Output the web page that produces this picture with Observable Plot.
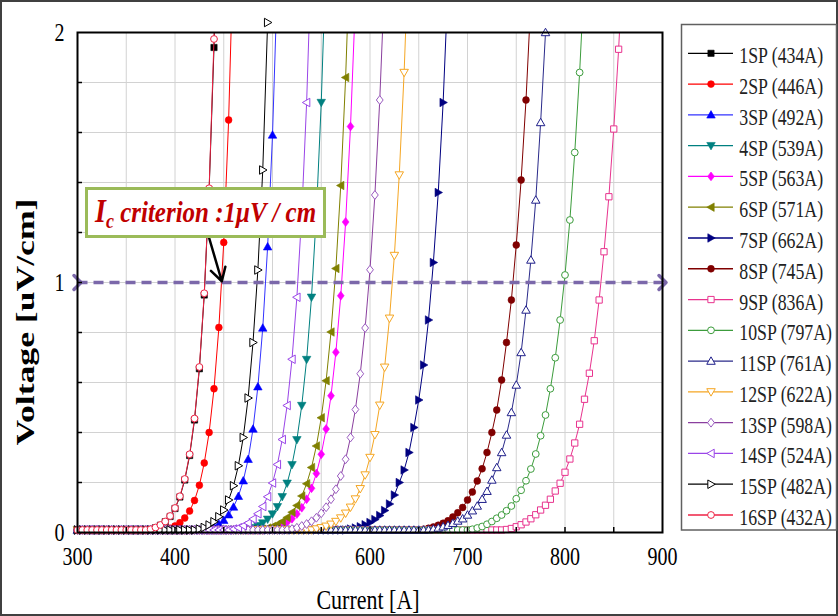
<!DOCTYPE html>
<html><head><meta charset="utf-8">
<script src="https://cdn.jsdelivr.net/npm/d3@7"></script>
<script src="https://cdn.jsdelivr.net/npm/@observablehq/plot@0.6"></script>
<style>
html,body{margin:0;padding:0;background:#fff;}
#wrap{position:relative;width:838px;height:616px;overflow:hidden;}
#wrap svg{display:block;}
</style></head><body><div id="wrap"></div>
<script>
// ---------- DATA ----------
const current = [
300,305,310,315,320,325,330,335,340,345,
350,355,360,365,370,375,380,385,390,395,
400,405,410,415,420,425,430,435,440,445,
450,455,460,465,470,475,480,485,490,495,
500,505,510,515,520,525,530,535,540,545,
550,555,560,565,570,575,580,585,590,595,
600,605,610,615,620,625,630,635,640,645,
650,655,660,665,670,675,680,685,690,695,
700,705,710,715,720,725,730,735,740,745,
750,755,760,765,770,775,780,785,790,795,
800,805,810,815,820,825,830,835,840,845,
850,855,860];

const seriesNames = ["1SP (434A)","2SP (446A)","3SP (492A)","4SP (539A)","5SP (563A)","6SP (571A)","7SP (662A)","8SP (745A)",
  "9SP (836A)","10SP (797A)","11SP (761A)","12SP (622A)","13SP (598A)","14SP (524A)","15SP (482A)","16SP (432A)"];

// voltages [uV/cm] at current[0], current[1], ...
const v1SP = [
.01,.01,.01,.01,.01,.01,.01,.01,.01,.01,
.01,.01,.01,.01,.01,.012,.019,.029,.043,.064,
.096,.142,.210,.308,.450,.655,.950,1.37,1.94,2.80];
const v2SP = [
.01,.01,.01,.01,.01,.01,.01,.01,.01,.01,
.01,.01,.01,.01,.01,.01,.01,.01,.011,.017,
.026,.039,.058,.086,.128,.189,.278,.400,.575,.820,
1.16,1.65,2.35];
const v3SP = [
.01,.01,.01,.01,.01,.01,.01,.01,.01,.01,
.01,.01,.01,.01,.01,.01,.01,.01,.01,.01,
.01,.01,.01,.01,.01,.01,.011,.016,.023,.034,
.049,.071,.102,.145,.207,.293,.414,.583,.818,1.143,
1.59,2.21];
const v4SP = [
.01,.01,.01,.01,.01,.01,.01,.01,.01,.01,
.01,.01,.01,.01,.01,.01,.01,.01,.01,.01,
.01,.01,.01,.01,.01,.01,.01,.01,.01,.01,
.01,.01,.01,.01,.01,.014,.019,.027,.038,.053,
.074,.103,.143,.197,.271,.371,.508,.692,.941,1.275,
1.72,2.32];
const v5SP = [
.01,.01,.01,.01,.01,.01,.01,.01,.01,.01,
.01,.01,.01,.01,.01,.01,.01,.01,.01,.01,
.01,.01,.01,.01,.01,.01,.01,.01,.01,.01,
.01,.01,.01,.01,.01,.01,.01,.01,.01,.012,
.016,.022,.030,.041,.055,.074,.099,.133,.177,.236,
.313,.414,.547,.721,.947,1.242,1.624,2.12];
const v6SP = [
.01,.01,.01,.01,.01,.01,.01,.01,.01,.01,
.01,.01,.01,.01,.01,.01,.01,.01,.01,.01,
.01,.01,.01,.01,.01,.01,.01,.01,.01,.01,
.01,.01,.01,.01,.01,.01,.01,.01,.013,.018,
.024,.033,.044,.060,.081,.108,.146,.195,.260,.346,
.459,.607,.802,1.056,1.388,1.82,2.38];
const v7SP = [
.01,.01,.01,.01,.01,.01,.01,.01,.01,.01,
.01,.01,.01,.01,.01,.01,.01,.01,.01,.01,
.01,.01,.01,.01,.01,.01,.01,.01,.01,.01,
.01,.01,.01,.01,.01,.01,.01,.01,.01,.01,
.01,.01,.01,.01,.01,.01,.01,.01,.01,.01,
.01,.01,.01,.01,.01,.01,.014,.018,.023,.031,
.040,.052,.068,.088,.114,.15,.20,.25,.32,.42,
.53,.67,.85,1.08,1.36,1.72,2.19];
const v8SP = [
.01,.01,.01,.01,.01,.01,.01,.01,.01,.01,
.01,.01,.01,.01,.01,.01,.01,.01,.01,.01,
.01,.01,.01,.01,.01,.01,.01,.01,.01,.01,
.01,.01,.01,.01,.01,.01,.01,.01,.01,.01,
.01,.01,.01,.01,.01,.01,.01,.01,.01,.01,
.01,.01,.01,.01,.01,.01,.01,.01,.01,.01,
.01,.01,.01,.01,.01,.01,.01,.01,.01,.01,
.01,.013,.017,.022,.029,.037,.047,.062,.079,.10,
.13,.162,.206,.255,.32,.40,.49,.61,.76,.93,
1.15,1.41,1.73,2.13];
const v9SP = [
.01,.01,.01,.01,.01,.01,.01,.01,.01,.01,
.01,.01,.01,.01,.01,.01,.01,.01,.01,.01,
.01,.01,.01,.01,.01,.01,.01,.01,.01,.01,
.01,.01,.01,.01,.01,.01,.01,.01,.01,.01,
.01,.01,.01,.01,.01,.01,.01,.01,.01,.01,
.01,.01,.01,.01,.01,.01,.01,.01,.01,.01,
.01,.01,.01,.01,.01,.01,.01,.01,.01,.01,
.01,.01,.01,.01,.01,.01,.01,.01,.01,.01,
.01,.01,.01,.01,.01,.01,.01,.01,.012,.016,
.023,.031,.042,.055,.071,.09,.109,.133,.166,.197,
.241,.294,.358,.433,.533,.637,.767,.93,1.123,1.343,
1.614,1.933,2.32];
const v10SP = [
.01,.01,.01,.01,.01,.01,.01,.01,.01,.01,
.01,.01,.01,.01,.01,.01,.01,.01,.01,.01,
.01,.01,.01,.01,.01,.01,.01,.01,.01,.01,
.01,.01,.01,.01,.01,.01,.01,.01,.01,.01,
.01,.01,.01,.01,.01,.01,.01,.01,.01,.01,
.01,.01,.01,.01,.01,.01,.01,.01,.01,.01,
.01,.01,.01,.01,.01,.01,.01,.01,.01,.01,
.01,.01,.01,.01,.01,.01,.01,.01,.01,.01,
.01,.013,.018,.024,.033,.044,.057,.07,.087,.106,
.135,.169,.207,.254,.314,.387,.47,.575,.699,.85,
1.03,1.25,1.52,1.84,2.23];
const v11SP = [
.01,.01,.01,.01,.01,.01,.01,.01,.01,.01,
.01,.01,.01,.01,.01,.01,.01,.01,.01,.01,
.01,.01,.01,.01,.01,.01,.01,.01,.01,.01,
.01,.01,.01,.01,.01,.01,.01,.01,.01,.01,
.01,.01,.01,.01,.01,.01,.01,.01,.01,.01,
.01,.01,.01,.01,.01,.01,.01,.01,.01,.01,
.01,.01,.01,.01,.01,.01,.01,.01,.01,.01,
.01,.01,.011,.014,.018,.023,.029,.037,.046,.055,
.07,.087,.106,.133,.165,.21,.26,.32,.39,.48,
.59,.72,.89,1.09,1.33,1.64,2.0,2.45];
const v12SP = [
.01,.01,.01,.01,.01,.01,.01,.01,.01,.01,
.01,.01,.01,.01,.01,.01,.01,.01,.01,.01,
.01,.01,.01,.01,.01,.01,.01,.01,.01,.01,
.01,.01,.01,.01,.01,.01,.01,.01,.01,.01,
.01,.01,.01,.01,.01,.01,.01,.01,.01,.014,
.019,.025,.033,.044,.058,.077,.101,.134,.175,.230,
.300,.391,.509,.661,.857,1.108,1.43,1.84,2.37];
const v13SP = [
.01,.01,.01,.01,.01,.01,.01,.01,.01,.01,
.01,.01,.01,.01,.01,.01,.01,.01,.01,.01,
.01,.01,.01,.01,.01,.01,.01,.01,.01,.01,
.01,.01,.01,.01,.01,.01,.01,.01,.01,.01,
.01,.01,.01,.011,.014,.019,.026,.034,.045,.059,
.077,.101,.133,.173,.226,.293,.380,.492,.635,.818,
1.051,1.35,1.73,2.21];
const v14SP = [
.01,.01,.01,.01,.01,.01,.01,.01,.01,.01,
.01,.01,.01,.01,.01,.01,.01,.01,.01,.01,
.01,.01,.01,.01,.01,.01,.01,.01,.01,.01,
.01,.01,.014,.019,.027,.038,.054,.075,.104,.143,
.198,.272,.372,.508,.693,.941,1.274,1.72,2.32];
const v15SP = [
.01,.01,.01,.01,.01,.01,.01,.01,.01,.01,
.01,.01,.01,.01,.01,.01,.01,.01,.01,.01,
.01,.01,.01,.01,.01,.014,.020,.030,.043,.063,
.090,.130,.187,.267,.380,.538,.760,1.05,1.45,2.04];
const v16SP = [
.01,.01,.01,.01,.01,.01,.01,.01,.01,.01,
.01,.01,.01,.01,.01,.013,.020,.030,.044,.066,
.098,.145,.214,.313,.456,.662,.957,1.377,1.974,2.818];

const seriesVoltages = [v1SP,v2SP,v3SP,v4SP,v5SP,v6SP,v7SP,v8SP,v9SP,v10SP,v11SP,v12SP,v13SP,v14SP,v15SP,v16SP];

const xDomain = [300, 900];
const yDomain = [0, 2];
const xTickLabels = [300, 400, 500, 600, 700, 800, 900];
const yTickLabels = [0, 1, 2];
const xGrid = [350,400,450,500,550,600,650,700,750,800,850];
const yGrid = [0.2,0.4,0.6,0.8,1.0,1.2,1.4,1.6,1.8];
const criterionVoltage = 1;
const criterionArrow = [{x1: 434.5, y1: 1.185, x2: 448, y2: 1.005}];

// ---------- STYLE ----------
const lineColors = ["#000000","#ff0000","#3333ff","#008080","#ff00ff","#808000","#000080","#800000",
  "#e8338e","#3c9c3c","#2a2a8a","#f5a623","#8a3f9e","#9a45e8","#000000","#ee2244"];
const markColors = ["#000000","#ff0000","#0000ff","#008080","#ff00ff","#808000","#000080","#800000",
  "#e8338e","#3c9c3c","#1f1f8a","#f5a623","#9a5cc0","#9a45e8","#000000","#ee2244"];
const markShapes = ["square","circle","up","down","diamond","left","right","circle",
  "square","circle","up","down","diamond","left","right","circle"];
const markFilled = [true,true,true,true,true,true,true,true,false,false,false,false,false,false,false,false];
const FONT = '"Liberation Serif","Times New Roman",serif';
const VS = 1.27; // vertical stretch of the original lettering

const sym = (f) => ({draw(ctx, size){ const r = Math.sqrt(size / Math.PI); f(ctx, r); }});
const SYM = {
  circle: sym((c,r)=>{ c.moveTo(r,0); c.arc(0,0,r,0,2*Math.PI); }),
  square: sym((c,r)=>{ const s=r*0.92; c.moveTo(-s,-s); c.lineTo(s,-s); c.lineTo(s,s); c.lineTo(-s,s); c.closePath(); }),
  up: sym((c,r)=>{ const h=r*1.25; c.moveTo(0,-h); c.lineTo(h,h*0.75); c.lineTo(-h,h*0.75); c.closePath(); }),
  down: sym((c,r)=>{ const h=r*1.25; c.moveTo(0,h); c.lineTo(h,-h*0.75); c.lineTo(-h,-h*0.75); c.closePath(); }),
  left: sym((c,r)=>{ const h=r*1.25; c.moveTo(-h,0); c.lineTo(h*0.75,-h); c.lineTo(h*0.75,h); c.closePath(); }),
  right: sym((c,r)=>{ const h=r*1.25; c.moveTo(h,0); c.lineTo(-h*0.75,-h); c.lineTo(-h*0.75,h); c.closePath(); }),
  diamond: sym((c,r)=>{ const a=r*1.3, b=r*1.0; c.moveTo(0,-a); c.lineTo(b,0); c.lineTo(0,a); c.lineTo(-b,0); c.closePath(); })
};
const R = 3.4;

// ---------- MARKS ----------
const marks = [
  Plot.gridX(xGrid, {stroke: "#d2d2d2", strokeOpacity: 1, strokeWidth: 1}),
  Plot.gridY(yGrid, {stroke: "#d2d2d2", strokeOpacity: 1, strokeWidth: 1})
];
seriesVoltages.forEach((v, i) => {
  const rows = v.map((val, j) => ({current: current[j], voltage: val}));
  marks.push(Plot.line(rows, {x: "current", y: "voltage", stroke: lineColors[i], strokeWidth: 1, clip: true}));
  marks.push(Plot.dot(rows.filter(d => d.voltage <= 2.05), {
    x: "current", y: "voltage", symbol: SYM[markShapes[i]], r: R,
    fill: markFilled[i] ? markColors[i] : "white",
    stroke: markColors[i], strokeWidth: markFilled[i] ? 0.6 : 1
  }));
});
marks.push(
  Plot.link([{a: xDomain[0], b: xDomain[1], v: criterionVoltage}], {
    x1: "a", x2: "b", y1: "v", y2: "v", stroke: "#7b68aa", strokeWidth: 3.5,
    strokeDasharray: "10,6", markerStart: "arrow", markerEnd: "arrow"
  }),
  Plot.arrow(criterionArrow, {x1: "x1", y1: "y1", x2: "x2", y2: "y2", stroke: "black", strokeWidth: 2.5, headLength: 9, bend: 0}),
  Plot.frame({stroke: "black", strokeWidth: 2}),
  Plot.axisX(xGrid, {tickSize: -5, tickFormat: () => "", label: null, strokeWidth: 1.5}),
  Plot.axisY(yGrid, {tickSize: -5, tickFormat: () => "", label: null, strokeWidth: 1.5}),
  Plot.axisX(xTickLabels, {tickSize: 0, tickPadding: 14, fontSize: 20, label: null, tickFormat: d => String(d)}),
  Plot.axisY(yTickLabels, {tickSize: 0, tickPadding: 13, fontSize: 20, label: null, tickFormat: d => String(d)})
);

const chart = Plot.plot({
  width: 838, height: 616,
  marginLeft: 77, marginRight: 176, marginTop: 32, marginBottom: 84,
  x: {domain: xDomain, label: null},
  y: {domain: yDomain, label: null},
  style: {fontFamily: FONT, fontSize: "20px", color: "black", background: "white", overflow: "visible"},
  marks
});
document.getElementById("wrap").appendChild(chart);

// ---------- TEXT / DECORATION ----------
const svg = d3.select(chart);
svg.selectAll('g[aria-label="x-axis tick label"] text, g[aria-label="y-axis tick label"] text').each(function(){
  const t = this.getAttribute("transform") || "";
  this.setAttribute("transform", t + ` scale(1,${VS})`);
});

// outer border
svg.append("rect").attr("x",1).attr("y",1).attr("width",836).attr("height",614)
  .attr("fill","none").attr("stroke","#404040").attr("stroke-width",2);

// axis titles
svg.append("text").attr("font-family",FONT).attr("font-size",22).attr("text-anchor","middle")
  .attr("transform",`translate(368,608.5) scale(1,${VS})`).text("Current [A]");
svg.append("text").attr("font-family",FONT).attr("font-size",26).attr("font-weight","bold").attr("text-anchor","middle")
  .attr("transform","translate(34,322) rotate(-90) scale(1.37,1)").text("Voltage [uV/cm]");

// criterion call-out
svg.append("rect").attr("x",86.5).attr("y",188.5).attr("width",238).attr("height",48)
  .attr("fill","white").attr("stroke","#9bbb59").attr("stroke-width",3);
const ct = svg.append("text").attr("font-family",FONT).attr("font-size",25).attr("font-weight","bold")
  .attr("font-style","italic").attr("fill","#c00000").attr("text-anchor","start")
  .attr("transform",`translate(95,222) scale(1,1.21)`);
ct.append("tspan").attr("font-size",28).text("I");
ct.append("tspan").attr("font-size",18).attr("dy",5).text("c");
ct.append("tspan").attr("dy",-5).text(" criterion :1\u03bcV / cm");

// legend
const lg = svg.append("g").attr("font-family", FONT).attr("text-anchor","start");
lg.append("rect").attr("x",681.5).attr("y",24.5).attr("width",155).attr("height",505.5)
  .attr("fill","white").attr("stroke","#606060").attr("stroke-width",1.5);
seriesNames.forEach((name, i) => {
  const yy = 53.3 + i * 30.78;
  lg.append("line").attr("x1",688).attr("x2",733).attr("y1",yy).attr("y2",yy)
    .attr("stroke",lineColors[i]).attr("stroke-width",1.3);
  lg.append("path").attr("d", d3.symbol(SYM[markShapes[i]], Math.PI*R*R)())
    .attr("transform",`translate(711,${yy})`)
    .attr("fill", markFilled[i] ? markColors[i] : "white")
    .attr("stroke", markColors[i]).attr("stroke-width", markFilled[i] ? 0.6 : 1);
  lg.append("text").attr("font-size",17.8).attr("fill","#222")
    .attr("transform",`translate(739.3,${yy+10}) scale(1,${VS})`).text(name);
});
</script>
</body></html>
